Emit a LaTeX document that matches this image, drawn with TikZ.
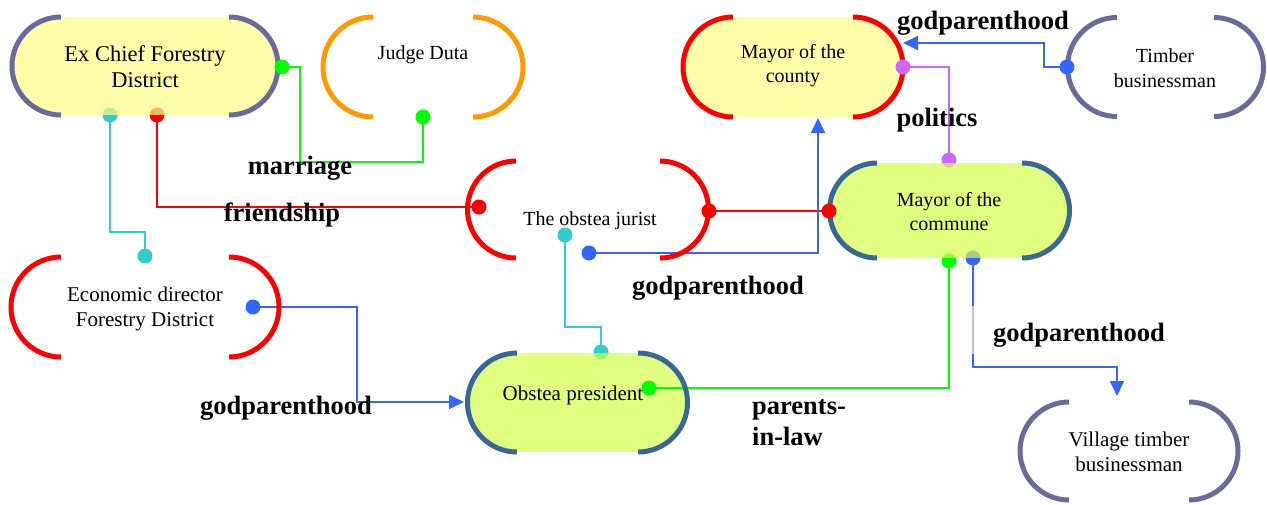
\documentclass[tikz,border=0pt]{standalone}
\usepackage{fontspec}
\setmainfont{Liberation Serif}
\usetikzlibrary{arrows.meta,calc}
\definecolor{pgray}{HTML}{6A6A9C}
\definecolor{nblue}{HTML}{386898}
\definecolor{norange}{HTML}{FF9900}
\definecolor{nred}{HTML}{FF0000}
\definecolor{fyellow}{HTML}{FFFFAA}
\definecolor{fyellowov}{HTML}{FFFF86}
\definecolor{fgreen}{HTML}{E0FF80}
\definecolor{fgreenov}{HTML}{D3FF4A}
\definecolor{lblue}{HTML}{3366FF}
\definecolor{lgreen}{HTML}{00FF00}
\definecolor{lred}{HTML}{FF0000}
\definecolor{lcyan}{HTML}{33CCCC}
\definecolor{lpurple}{HTML}{CC66FF}
% xl xr y r style
\newcommand\rkCapFill[5]{%
  \fill[#5] (#1,#3-#4) arc[start angle=270,end angle=90,radius=#4] -- cycle;
  \fill[#5] (#2,#3-#4) arc[start angle=-90,end angle=90,radius=#4] -- cycle;}
\newcommand\rkMidFill[5]{%
  \fill[#5,opacity=0.7] (#1,#3-#4) rectangle (#2,#3+#4);}
\newcommand\rkCapStroke[5]{%
  \draw[capline,#5] (#1,#3-#4) arc[start angle=270,end angle=90,radius=#4];
  \draw[capline,#5] (#2,#3-#4) arc[start angle=-90,end angle=90,radius=#4];}
\begin{document}
\begin{tikzpicture}[x=1pt,y=-1pt,
  capline/.style={line width=5pt},
  conn/.style={line width=1.8pt},
  arr/.style={conn,-{Triangle[length=15pt,width=14pt]}},
  txt/.style={font=\fontsize{20}{24.5}\selectfont,align=center,inner sep=0pt,text=black},
  txtb/.style={txt,font=\fontsize{21}{25}\selectfont},
  lbl/.style={font=\fontsize{26.5}{31}\selectfont\bfseries,inner sep=0pt,text=black}]
\fill[white] (0,0) rectangle (1267,504);
\useasboundingbox (0,0) rectangle (1267,504);

% node fills (caps)
\rkCapFill{61}{229}{66}{49}{fyellow}
\rkCapFill{733}{853}{67}{50}{fyellow}
\rkCapFill{877}{1022}{210.5}{47.5}{fgreen}
\rkCapFill{517}{638}{402.5}{49.5}{fgreen}

% connection points
\coordinate (aCyan) at (110,115);
\coordinate (aRed) at (157,115);
\coordinate (aGreen) at (282,67);
\coordinate (bGreen) at (423,117);
\coordinate (cPurple) at (903,67);
\coordinate (cIn) at (818,118);
\coordinate (cTip) at (903,43);
\coordinate (dBlue) at (1067,67);
\coordinate (eRedL) at (479,207);
\coordinate (eRedR) at (709,211);
\coordinate (eCyan) at (565,235);
\coordinate (eBlue) at (589,253);
\coordinate (fPurple) at (949,160);
\coordinate (fRed) at (829,211);
\coordinate (fGreen) at (949,261);
\coordinate (fBlue) at (973,258);
\coordinate (gCyan) at (145,256);
\coordinate (gBlue) at (253,307);
\coordinate (hCyan) at (601,352);
\coordinate (hGreen) at (649,388);
\coordinate (hTip) at (464,402);
\coordinate (iTip) at (1117,396);

% connectors
\draw[conn,lgreen] (aGreen) -- ++(18,0) |- ($(bGreen)+(0,45)$) -- (bGreen);
\draw[conn,lred] (aRed) |- (eRedL);
\draw[conn,lcyan] (aCyan) |- ($(gCyan)+(0,-24)$) -- (gCyan);
\draw[conn,lred] (eRedR) -- (fRed);
\draw[arr,lblue] (eBlue) -| (cIn);
\draw[arr,lblue] (dBlue) -- ++(-23,0) |- (cTip);
\draw[conn,lpurple] (cPurple) -| (fPurple);
\draw[conn,lgreen] (fGreen) |- (hGreen);
\draw[conn,lblue] (fBlue) |- ($(iTip)+(0,-29)$);
\draw[arr,lblue] ($(iTip)+(0,-29.9)$) -- (iTip);
\draw[arr,lblue] (gBlue) -- ++(104,0) |- (hTip);
\draw[conn,lcyan] (hCyan) |- ($(eCyan)+(0,92)$) -- (eCyan);
\fill[white,opacity=0.6] (970,306) rectangle (976,354);

% node outlines
\rkCapStroke{61}{229}{66}{49}{pgray}
\rkCapStroke{373}{473}{67}{50}{norange}
\rkCapStroke{733}{853}{67}{50}{nred}
\rkCapStroke{1117}{1214}{67}{49.5}{pgray}
\rkCapStroke{516}{660}{209.5}{48.5}{nred}
\rkCapStroke{877}{1022}{210.5}{47.5}{nblue}
\rkCapStroke{61}{229}{307}{50}{nred}
\rkCapStroke{517}{638}{402.5}{49.5}{nblue}
\rkCapStroke{1069}{1189}{451}{49}{pgray}

% dots
\foreach \p/\c in {aCyan/lcyan,aRed/lred,aGreen/lgreen,bGreen/lgreen,cPurple/lpurple,
  dBlue/lblue,eRedL/lred,eRedR/lred,eCyan/lcyan,eBlue/lblue,fPurple/lpurple,fRed/lred,
  fGreen/lgreen,fBlue/lblue,gCyan/lcyan,gBlue/lblue,hCyan/lcyan,hGreen/lgreen}
  \fill[\c] (\p) circle[radius=7.5];

% translucent middle fills
\rkMidFill{61}{229}{66}{49}{fyellowov}
\rkMidFill{733}{853}{67}{50}{fyellowov}
\rkMidFill{877}{1022}{210.5}{47.5}{fgreenov}
\rkMidFill{517}{638}{402.5}{49.5}{fgreenov}

% node texts
\node[txt,font=\fontsize{22.5}{26}\selectfont] (exchief) at (145,67) {Ex Chief Forestry\\District};
\node[txt] (judge) at (423,55) {Judge Duta};
\node[txt] (mcounty) at (793,65.5) {Mayor of the\\county};
\node[txt] (timber) at (1165,68) {Timber\\businessman};
\node[txt] (jurist) at (590,221) {The obstea jurist};
\node[txt] (mcommune) at (949,211.5) {Mayor of the\\commune};
\node[txtb] (econ) at (145,309) {Economic director\\Forestry District};
\node[txtb] (president) at (573,395) {Obstea president};
\node[txtb] (village) at (1129,451.5) {Village timber\\businessman};

% labels
\node[lbl] (l1) at (983,23) {godparenthood};
\node[lbl] (l2) at (937,120) {politics};
\node[lbl] (l3) at (300,168) {marriage};
\node[lbl] (l4) at (282,214.5) {friendship};
\node[lbl] (l5) at (718,288) {godparenthood};
\node[lbl] (l6) at (1079,335) {godparenthood};
\node[lbl] (l7) at (286,408) {godparenthood};
\node[lbl,align=left,anchor=west] (l8) at (752,423) {parents-\\in-law};
\end{tikzpicture}
\end{document}
